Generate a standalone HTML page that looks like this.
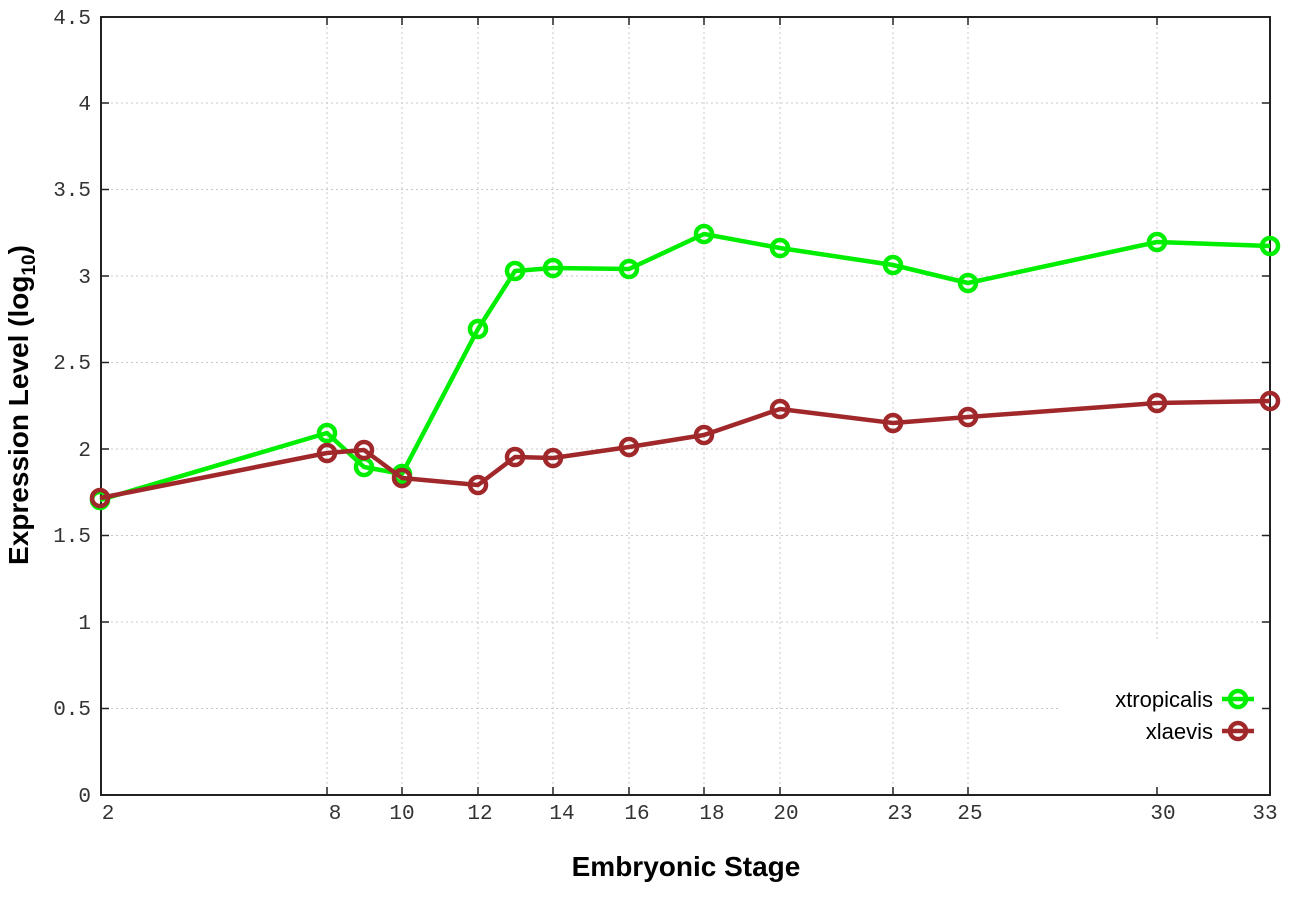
<!DOCTYPE html>
<html><head><meta charset="utf-8"><style>body{margin:0;background:#fff}</style></head><body>
<svg width="1296" height="907" viewBox="0 0 1296 907" xmlns="http://www.w3.org/2000/svg">
<rect width="1296" height="907" fill="#fff"/>
<g stroke="#c8c8c8" stroke-width="1" stroke-dasharray="2,3">
<line x1="101" y1="708.5" x2="1270" y2="708.5"/><line x1="101" y1="622" x2="1270" y2="622"/>
<line x1="101" y1="535.5" x2="1270" y2="535.5"/><line x1="101" y1="449" x2="1270" y2="449"/>
<line x1="101" y1="362.5" x2="1270" y2="362.5"/><line x1="101" y1="276" x2="1270" y2="276"/>
<line x1="101" y1="189.5" x2="1270" y2="189.5"/><line x1="101" y1="103" x2="1270" y2="103"/>
<line x1="327" y1="17" x2="327" y2="795"/><line x1="402" y1="17" x2="402" y2="795"/>
<line x1="478" y1="17" x2="478" y2="795"/><line x1="553" y1="17" x2="553" y2="795"/>
<line x1="629" y1="17" x2="629" y2="795"/><line x1="704" y1="17" x2="704" y2="795"/>
<line x1="780" y1="17" x2="780" y2="795"/><line x1="893" y1="17" x2="893" y2="795"/>
<line x1="968" y1="17" x2="968" y2="795"/><line x1="1157" y1="17" x2="1157" y2="640"/>
</g>
<rect x="1060" y="680" width="205" height="70" fill="#fff"/>
<rect x="101" y="17" width="1169" height="778" fill="none" stroke="#222" stroke-width="2"/>
<g stroke="#222" stroke-width="1.5">
<line x1="101" y1="708.5" x2="109" y2="708.5"/><line x1="101" y1="622" x2="109" y2="622"/><line x1="101" y1="535.5" x2="109" y2="535.5"/><line x1="101" y1="449" x2="109" y2="449"/><line x1="101" y1="362.5" x2="109" y2="362.5"/><line x1="101" y1="276" x2="109" y2="276"/><line x1="101" y1="189.5" x2="109" y2="189.5"/><line x1="101" y1="103" x2="109" y2="103"/>
<line x1="1270" y1="708.5" x2="1262" y2="708.5"/><line x1="1270" y1="622" x2="1262" y2="622"/><line x1="1270" y1="535.5" x2="1262" y2="535.5"/><line x1="1270" y1="449" x2="1262" y2="449"/><line x1="1270" y1="362.5" x2="1262" y2="362.5"/><line x1="1270" y1="276" x2="1262" y2="276"/><line x1="1270" y1="189.5" x2="1262" y2="189.5"/><line x1="1270" y1="103" x2="1262" y2="103"/>
<line x1="327" y1="795" x2="327" y2="787"/><line x1="402" y1="795" x2="402" y2="787"/><line x1="478" y1="795" x2="478" y2="787"/><line x1="553" y1="795" x2="553" y2="787"/><line x1="629" y1="795" x2="629" y2="787"/><line x1="704" y1="795" x2="704" y2="787"/><line x1="780" y1="795" x2="780" y2="787"/><line x1="893" y1="795" x2="893" y2="787"/><line x1="968" y1="795" x2="968" y2="787"/><line x1="1157" y1="795" x2="1157" y2="787"/>
<line x1="327" y1="17" x2="327" y2="25"/><line x1="402" y1="17" x2="402" y2="25"/><line x1="478" y1="17" x2="478" y2="25"/><line x1="553" y1="17" x2="553" y2="25"/><line x1="629" y1="17" x2="629" y2="25"/><line x1="704" y1="17" x2="704" y2="25"/><line x1="780" y1="17" x2="780" y2="25"/><line x1="893" y1="17" x2="893" y2="25"/><line x1="968" y1="17" x2="968" y2="25"/><line x1="1157" y1="17" x2="1157" y2="25"/>
</g>
<g font-family="Liberation Mono, monospace" font-size="21" fill="#333" text-anchor="end">
<text x="91" y="802">0</text><text x="91" y="715">0.5</text><text x="91" y="629">1</text><text x="91" y="542">1.5</text><text x="91" y="456">2</text><text x="91" y="369">2.5</text><text x="91" y="283">3</text><text x="91" y="196">3.5</text><text x="91" y="110">4</text><text x="91" y="24">4.5</text>
</g>
<g font-family="Liberation Mono, monospace" font-size="21" fill="#333" text-anchor="middle">
<text x="108" y="819">2</text><text x="335" y="819">8</text><text x="402" y="819">10</text><text x="480" y="819">12</text><text x="562" y="819">14</text><text x="637" y="819">16</text><text x="712" y="819">18</text><text x="786" y="819">20</text><text x="900" y="819">23</text><text x="970" y="819">25</text><text x="1163" y="819">30</text><text x="1265" y="819">33</text>
</g>
<text x="686" y="876" font-family="Liberation Sans, sans-serif" font-weight="bold" font-size="28" text-anchor="middle">Embryonic Stage</text>
<text transform="translate(28,405) rotate(-90)" font-family="Liberation Sans, sans-serif" font-weight="bold" font-size="28" text-anchor="middle">Expression Level (log<tspan font-size="19" dy="7">10</tspan><tspan dy="-7">)</tspan></text>
<g fill="none" stroke-width="4.5" stroke-linejoin="round">
<polyline stroke="#00ee00" points="100,500 327,433 364,467 402,474 478,329 515,271 553,268 629,269 704,234 780,248 893,265 968,283 1157,242 1270,246"/>
<g stroke="#00ee00"><circle cx="100" cy="500" r="8"/><circle cx="327" cy="433" r="8"/><circle cx="364" cy="467" r="8"/><circle cx="402" cy="474" r="8"/><circle cx="478" cy="329" r="8"/><circle cx="515" cy="271" r="8"/><circle cx="553" cy="268" r="8"/><circle cx="629" cy="269" r="8"/><circle cx="704" cy="234" r="8"/><circle cx="780" cy="248" r="8"/><circle cx="893" cy="265" r="8"/><circle cx="968" cy="283" r="8"/><circle cx="1157" cy="242" r="8"/><circle cx="1270" cy="246" r="8"/></g>
<polyline stroke="#a0282a" points="100,498 327,453 364,450 402,478 478,485 515,457 553,458 629,447 704,435 780,409 893,423 968,417 1157,403 1270,401"/>
<g stroke="#a0282a"><circle cx="100" cy="498" r="8"/><circle cx="327" cy="453" r="8"/><circle cx="364" cy="450" r="8"/><circle cx="402" cy="478" r="8"/><circle cx="478" cy="485" r="8"/><circle cx="515" cy="457" r="8"/><circle cx="553" cy="458" r="8"/><circle cx="629" cy="447" r="8"/><circle cx="704" cy="435" r="8"/><circle cx="780" cy="409" r="8"/><circle cx="893" cy="423" r="8"/><circle cx="968" cy="417" r="8"/><circle cx="1157" cy="403" r="8"/><circle cx="1270" cy="401" r="8"/></g>
<line x1="1222" y1="699" x2="1254" y2="699" stroke="#00ee00"/><circle cx="1238" cy="699" r="8" stroke="#00ee00"/>
<line x1="1222" y1="731" x2="1254" y2="731" stroke="#a0282a"/><circle cx="1238" cy="731" r="8" stroke="#a0282a"/>
</g>
<g font-family="Liberation Sans, sans-serif" font-size="22" fill="#000" text-anchor="end">
<text x="1213" y="707">xtropicalis</text><text x="1213" y="739">xlaevis</text>
</g>
</svg>
</body></html>
